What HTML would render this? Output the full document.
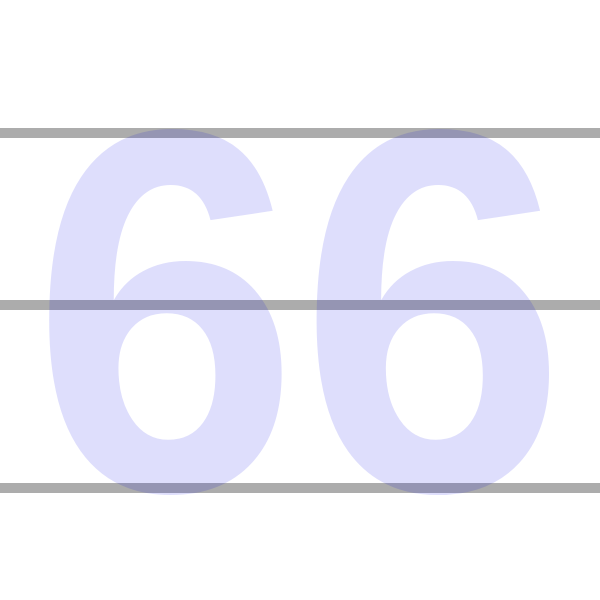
<!DOCTYPE html>
<html>
<head>
<meta charset="utf-8">
<style>
html,body{margin:0;padding:0;background:#fff;}
svg{display:block;}
</style>
</head>
<body>
<svg width="600" height="600" viewBox="0 0 600 600">
  <g id="lines"></g>
  <text x="299" y="490" text-anchor="middle" font-family="Liberation Sans, sans-serif" font-weight="bold" font-size="517" fill="rgb(0,0,230)" fill-opacity="0.13" transform="translate(299 0) scale(0.93 1) translate(-299 0)">66</text>
</svg>
<script>
const lineYs = [133, 305, 488];
const g = document.getElementById('lines');
lineYs.forEach(function(y){
  const r = document.createElementNS('http://www.w3.org/2000/svg','rect');
  r.setAttribute('x', 0);
  r.setAttribute('y', y - 5);
  r.setAttribute('width', 600);
  r.setAttribute('height', 10);
  r.setAttribute('fill', '#acacac');
  
  
  g.appendChild(r);
});
</script>
</body>
</html>
